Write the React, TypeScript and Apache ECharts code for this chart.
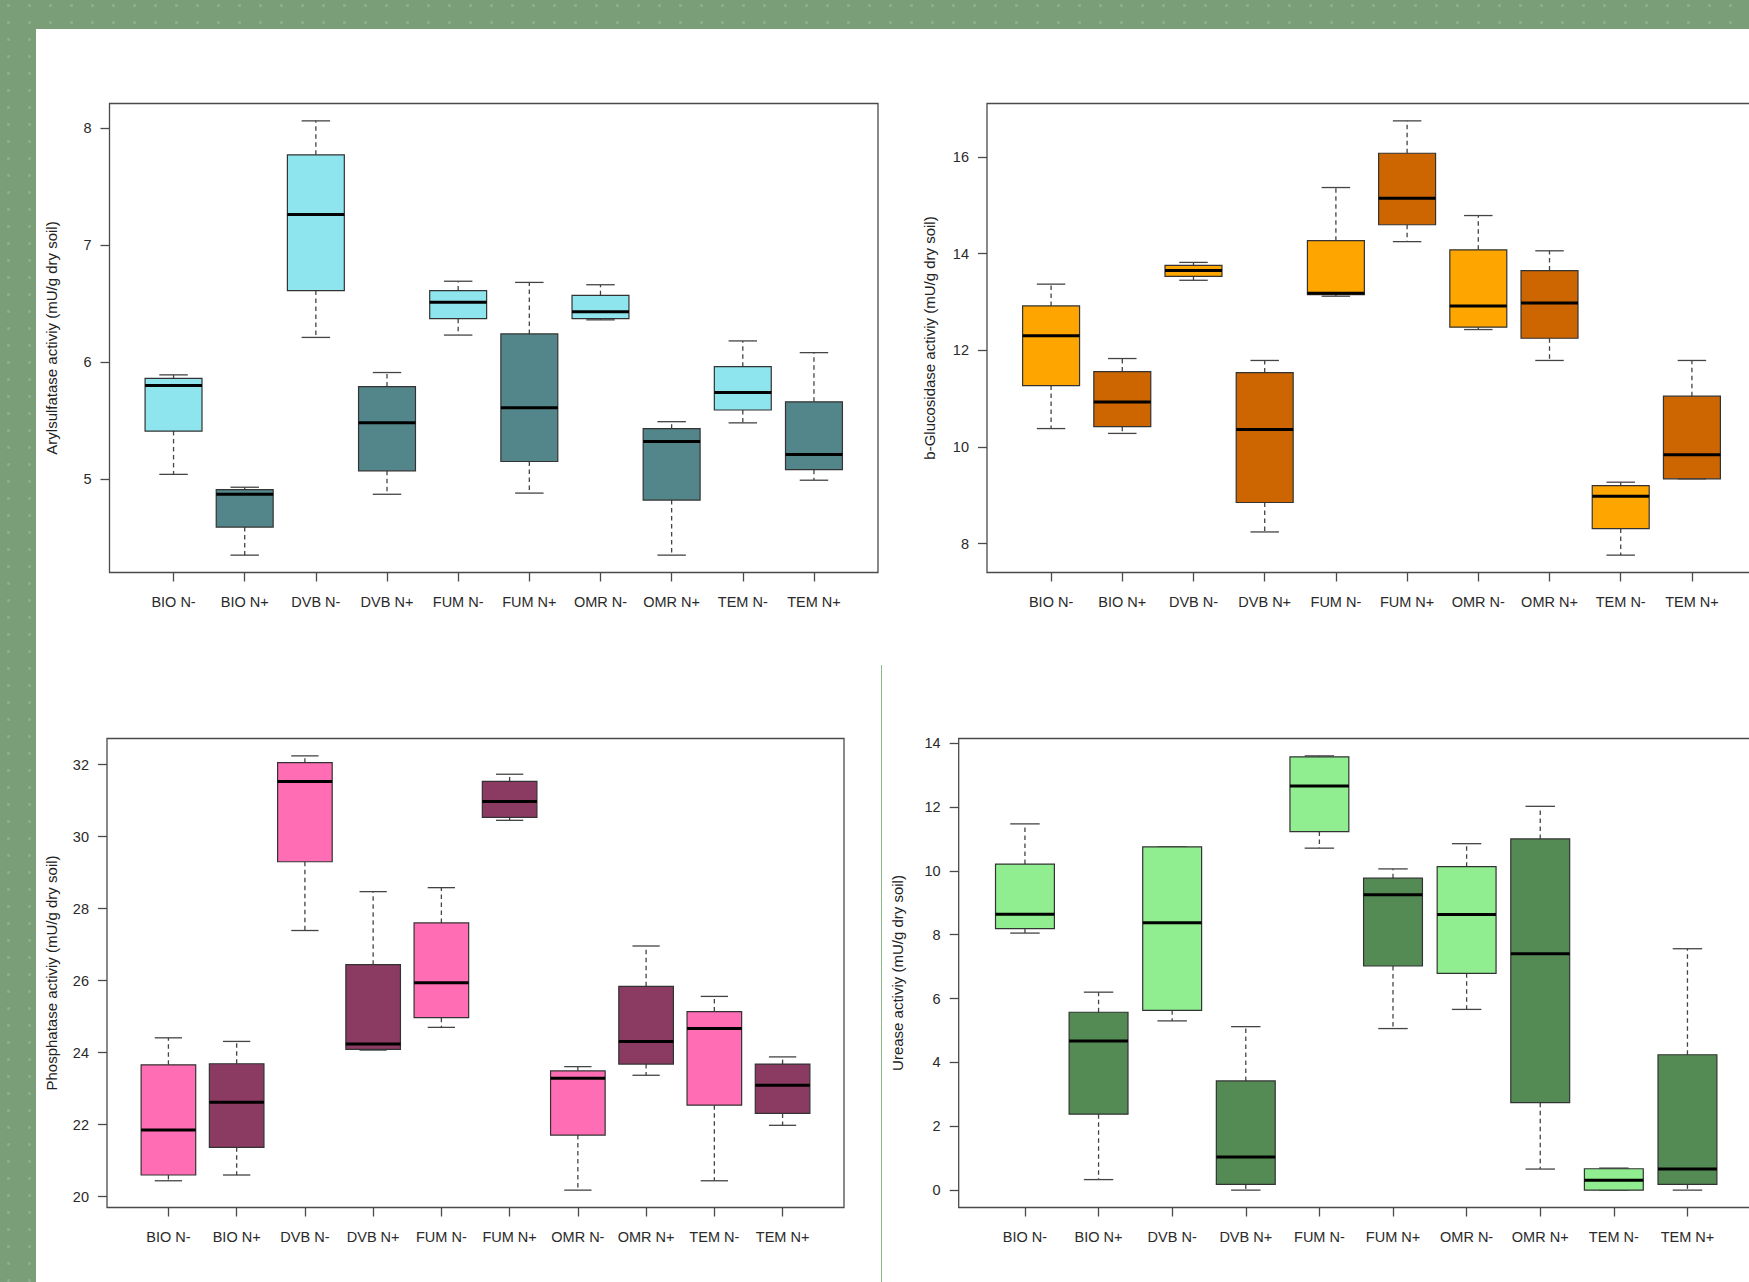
import React, { useEffect, useRef } from "react";
import * as echarts from "echarts";

// ---------- data ----------
const categories = ["BIO N-", "BIO N+", "DVB N-", "DVB N+", "FUM N-", "FUM N+", "OMR N-", "OMR N+", "TEM N-", "TEM N+"];

// each entry: [lower whisker, Q1, median, Q3, upper whisker]
const arylsulfatase = [
  [5.04, 5.41, 5.80, 5.86, 5.89],
  [4.35, 4.59, 4.87, 4.91, 4.93],
  [6.21, 6.61, 7.26, 7.77, 8.06],
  [4.87, 5.07, 5.48, 5.79, 5.91],
  [6.23, 6.37, 6.51, 6.61, 6.69],
  [4.88, 5.15, 5.61, 6.24, 6.68],
  [6.36, 6.37, 6.43, 6.57, 6.66],
  [4.35, 4.82, 5.32, 5.43, 5.49],
  [5.48, 5.59, 5.74, 5.96, 6.18],
  [4.99, 5.08, 5.21, 5.66, 6.08],
];
const glucosidase = [
  [10.38, 11.27, 12.30, 12.92, 13.37],
  [10.28, 10.42, 10.93, 11.56, 11.83],
  [13.45, 13.53, 13.65, 13.76, 13.82],
  [8.24, 8.85, 10.36, 11.54, 11.79],
  [13.12, 13.15, 13.18, 14.27, 15.37],
  [14.25, 14.60, 15.15, 16.08, 16.75],
  [12.43, 12.48, 12.92, 14.08, 14.79],
  [11.79, 12.25, 12.98, 13.65, 14.06],
  [7.76, 8.31, 8.98, 9.20, 9.27],
  [9.34, 9.34, 9.84, 11.05, 11.79],
];
const phosphatase = [
  [20.44, 20.60, 21.85, 23.66, 24.41],
  [20.60, 21.37, 22.62, 23.69, 24.31],
  [27.39, 29.30, 31.53, 32.05, 32.24],
  [24.07, 24.09, 24.24, 26.44, 28.47],
  [24.70, 24.97, 25.94, 27.60, 28.58],
  [30.45, 30.53, 30.97, 31.53, 31.73],
  [20.18, 21.71, 23.29, 23.49, 23.61],
  [23.37, 23.68, 24.31, 25.84, 26.96],
  [20.44, 22.54, 24.67, 25.14, 25.56],
  [21.98, 22.31, 23.09, 23.68, 23.88],
];
const urease = [
  [8.05, 8.19, 8.64, 10.21, 11.47],
  [0.33, 2.38, 4.67, 5.57, 6.20],
  [5.30, 5.63, 8.37, 10.75, 10.75],
  [0.0, 0.18, 1.04, 3.42, 5.12],
  [10.71, 11.23, 12.66, 13.57, 13.60],
  [5.06, 7.02, 9.25, 9.77, 10.06],
  [5.66, 6.79, 8.63, 10.13, 10.85],
  [0.66, 2.74, 7.40, 11.00, 12.02],
  [0.0, 0.0, 0.31, 0.67, 0.69],
  [0.0, 0.18, 0.66, 4.24, 7.56],
];

const arylTicks = [5, 6, 7, 8];
const glucTicks = [8, 10, 12, 14, 16];
const phosTicks = [20, 22, 24, 26, 28, 30, 32];
const ureaseTicks = [0, 2, 4, 6, 8, 10, 12, 14];

const categoryPositions = categories.map((_, i) => i + 1);

// ---------- layout ----------
const W = 1749;
const H = 1282;
const FONT = "'Liberation Sans', Arial, Helvetica, sans-serif";

type Panel = {
  boxes: number[][];
  ticks: number[];
  title: string;
  colors: [string, string];
  left: number;
  top: number;
  width: number;
  height: number;
  nameGap: number;
};

const panels: Panel[] = [
  {
    boxes: arylsulfatase, ticks: arylTicks,
    title: "Arylsulfatase activiy (mU/g dry soil)",
    colors: ["#8EE5EE", "#53868B"],
    left: 109.5, top: 103.5, width: 768.5, height: 469, nameGap: 51,
  },
  {
    boxes: glucosidase, ticks: glucTicks,
    title: "b-Glucosidase activiy (mU/g dry soil)",
    colors: ["#FFA500", "#CD6600"],
    left: 987, top: 103.5, width: 769, height: 469, nameGap: 50,
  },
  {
    boxes: phosphatase, ticks: phosTicks,
    title: "Phosphatase activiy (mU/g dry soil)",
    colors: ["#FF6EB4", "#8B3A62"],
    left: 107, top: 738.5, width: 737, height: 469, nameGap: 48,
  },
  {
    boxes: urease, ticks: ureaseTicks,
    title: "Urease activiy (mU/g dry soil)",
    colors: ["#90EE90", "#548B54"],
    left: 958.7, top: 738.5, width: 795, height: 469, nameGap: 54,
  },
];

function rExtent(boxes: number[][]): [number, number] {
  let lo = Infinity;
  let hi = -Infinity;
  boxes.forEach((b) => b.forEach((v) => { lo = Math.min(lo, v); hi = Math.max(hi, v); }));
  const d = (hi - lo) * 0.04;
  return [lo - d, hi + d];
}

function buildOption() {
  const grid: any[] = [];
  const xAxis: any[] = [];
  const yAxis: any[] = [];
  const series: any[] = [];

  panels.forEach((p, i) => {
    grid.push({
      left: p.left, top: p.top, width: p.width, height: p.height,
      show: true, borderColor: "#4a4a4a", borderWidth: 1.3, backgroundColor: "transparent",
      containLabel: false, outerBoundsMode: "none",
    });
    xAxis.push({
      gridIndex: i, type: "value", position: "bottom",
      min: 0.1, max: 10.9,
      axisLine: { show: false, onZero: false },
      splitLine: { show: false },
      axisTick: { show: true, inside: false, length: 9, lineStyle: { color: "#4a4a4a", width: 1.3 }, customValues: categoryPositions },
      axisLabel: {
        show: true, customValues: categoryPositions, margin: 22,
        fontSize: 14.5, color: "#2a2a2a", fontFamily: FONT,
        formatter: (v: number) => categories[Math.round(v) - 1] ?? "",
      },
    });
    const [mn, mx] = rExtent(p.boxes);
    yAxis.push({
      gridIndex: i, type: "value", position: "left",
      min: mn, max: mx,
      axisLine: { show: false, onZero: false },
      splitLine: { show: false },
      axisTick: { show: true, inside: false, length: 9, lineStyle: { color: "#4a4a4a", width: 1.3 }, customValues: p.ticks },
      axisLabel: {
        show: true, customValues: p.ticks, margin: 18,
        fontSize: 14.5, color: "#2a2a2a", fontFamily: FONT,
        formatter: (v: number) => String(v),
      },
      name: p.title, nameLocation: "middle", nameGap: p.nameGap, nameRotate: 90,
      nameTextStyle: { fontSize: 15, color: "#222", fontFamily: FONT },
    });
    const colors = p.colors;
    series.push({
      type: "custom",
      xAxisIndex: i, yAxisIndex: i,
      data: p.boxes.map((b, k) => [categoryPositions[k], ...b]),
      encode: { x: 0, y: [1, 2, 3, 4, 5] },
      renderItem: (params: any, api: any) => {
        const x = api.value(0);
        const lo = api.coord([x, api.value(1)]);
        const q1 = api.coord([x, api.value(2)]);
        const md = api.coord([x, api.value(3)]);
        const q3 = api.coord([x, api.value(4)]);
        const hi = api.coord([x, api.value(5)]);
        const bw = api.size([1, 0])[0] * 0.8;
        const cx = md[0];
        const fill = colors[params.dataIndex % 2];
        const whisk = { stroke: "#444", lineWidth: 1.3, lineDash: [4.5, 3.5] };
        const cap = { stroke: "#444", lineWidth: 1.3 };
        return {
          type: "group",
          children: [
            { type: "line", shape: { x1: cx, y1: q3[1], x2: cx, y2: hi[1] }, style: whisk },
            { type: "line", shape: { x1: cx, y1: q1[1], x2: cx, y2: lo[1] }, style: whisk },
            { type: "line", shape: { x1: cx - bw / 4, y1: hi[1], x2: cx + bw / 4, y2: hi[1] }, style: cap },
            { type: "line", shape: { x1: cx - bw / 4, y1: lo[1], x2: cx + bw / 4, y2: lo[1] }, style: cap },
            {
              type: "rect",
              shape: { x: cx - bw / 2, y: q3[1], width: bw, height: q1[1] - q3[1] },
              style: { fill, stroke: "#333", lineWidth: 1.2 },
            },
            { type: "line", shape: { x1: cx - bw / 2, y1: md[1], x2: cx + bw / 2, y2: md[1] }, style: { stroke: "#000", lineWidth: 3 } },
          ],
        };
      },
    });
  });

  return {
    animation: false,
    backgroundColor: "transparent",
    grid, xAxis, yAxis, series,
  };
}

export default function App() {
  const ref = useRef<HTMLDivElement>(null);
  useEffect(() => {
    document.body.style.margin = "0";
    if (!ref.current) return;
    const chart = echarts.init(ref.current, undefined, { renderer: "svg", width: W, height: H });
    chart.setOption(buildOption());
    return () => chart.dispose();
  }, []);
  return (
    <div
      style={{
        position: "relative", width: W, height: H, overflow: "hidden",
        backgroundColor: "#799e78",
        backgroundImage: "radial-gradient(circle, rgba(255,255,255,0.16) 1.2px, transparent 1.8px)",
        backgroundSize: "21px 17px",
        backgroundPosition: "-2px -3px",
      }}
    >
      <div style={{ position: "absolute", left: 36, top: 29, right: 0, bottom: 0, background: "#fff" }} />
      <div style={{ position: "absolute", left: 880.6, top: 665, width: 1.5, bottom: 0, background: "#8dbb8c" }} />
      <div ref={ref} style={{ position: "absolute", left: 0, top: 0, width: W, height: H }} />
    </div>
  );
}
